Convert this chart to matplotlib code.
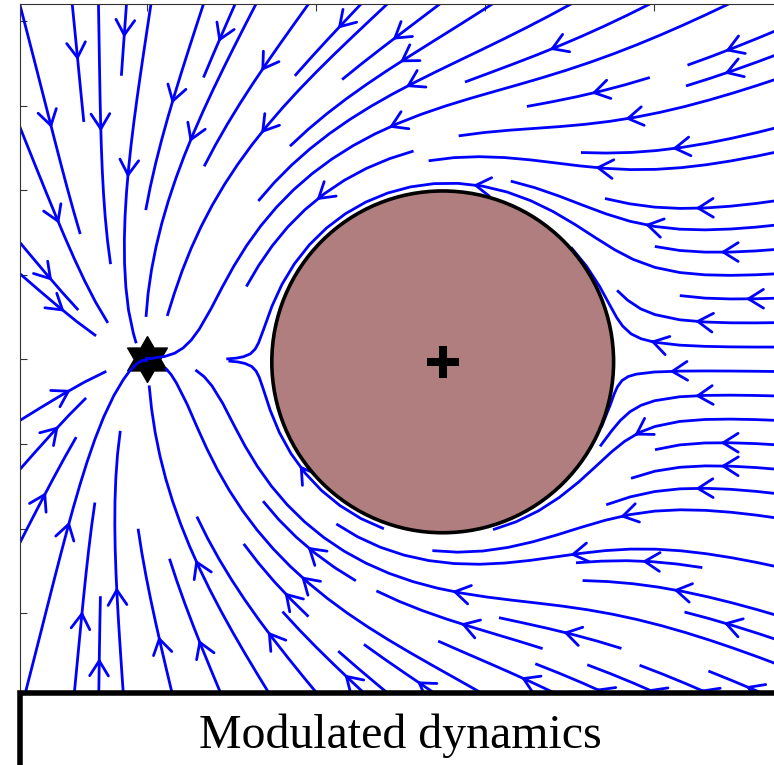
import numpy as np
import matplotlib.pyplot as plt
from matplotlib.patches import Circle, Rectangle

# scene setup
attractor = [0.0, 0.0]
obstacle_center = [3.5, -0.03]
obstacle_radius = 2.02
x_range = [-1.5, 7.5]
y_range = [-4.2, 4.2]
x_ticks = [0, 2, 4, 6]
y_ticks = [-4, -3, -2, -1, 0, 1, 2, 3, 4]
title = "Modulated dynamics"

W, H, DPI = 774, 765, 100
PX_PER_UNIT = 84.6


def modulated_velocity(X, Y):
    # linear system towards the attractor
    fx = -(X - attractor[0])
    fy = -(Y - attractor[1])
    dx = X - obstacle_center[0]
    dy = Y - obstacle_center[1]
    r = np.hypot(dx, dy)
    gamma = (r / obstacle_radius) ** 2
    nx, ny = dx / r, dy / r
    ex, ey = -ny, nx
    lam_n = 1 - 1 / gamma
    lam_e = 1 + 1 / gamma
    fn = fx * nx + fy * ny
    fe = fx * ex + fy * ey
    u = lam_n * fn * nx + lam_e * fe * ex
    v = lam_n * fn * ny + lam_e * fe * ey
    inside = r < obstacle_radius
    u = np.ma.masked_where(inside, u)
    v = np.ma.masked_where(inside, v)
    return u, v


xs = np.linspace(x_range[0], x_range[1], 360)
ys = np.linspace(y_range[0], y_range[1], 340)
X, Y = np.meshgrid(xs, ys)
U, V = modulated_velocity(X, Y)

fig = plt.figure(figsize=(W / DPI, H / DPI), dpi=DPI)
left_px, top_px = 19.7, 4.0
w_px = (x_range[1] - x_range[0]) * PX_PER_UNIT
h_px = (y_range[1] - y_range[0]) * PX_PER_UNIT
ax = fig.add_axes([left_px / W, (H - top_px - h_px) / H, w_px / W, h_px / H])

ax.streamplot(X, Y, U, V, density=1.0, color="#0000ff", linewidth=2.0,
              arrowstyle="->,head_length=0.4,head_width=0.25", arrowsize=2.7,
              zorder=2)

# obstacle with its centre
ax.add_patch(Circle(obstacle_center, obstacle_radius, facecolor="#b07e7e",
                    edgecolor="k", linewidth=2.6, zorder=3))
ax.plot(*obstacle_center, marker="+", color="k", markersize=23,
        markeredgewidth=5.8, zorder=4)

# hexagram for the attractor
ang_out = np.deg2rad(90 + 60 * np.arange(6))
ang_in = ang_out + np.deg2rad(30)
r_in = 1 / np.sqrt(3)
hexagram = []
for a, b in zip(ang_out, ang_in):
    hexagram.append((np.cos(a), np.sin(a)))
    hexagram.append((r_in * np.cos(b), r_in * np.sin(b)))
hexagram.append(hexagram[0])
ax.plot(*attractor, marker=hexagram, color="k", markersize=33, zorder=1)

ax.set_xlim(x_range)
ax.set_ylim(y_range)
ax.set_xticks(x_ticks)
ax.set_yticks(y_ticks)
ax.tick_params(direction="in", length=5, width=0.8, color="#333333",
               top=True, right=True, labelleft=False, labelbottom=False)
for s in ax.spines.values():
    s.set_color("#333333")
    s.set_linewidth(0.8)

# caption box along the bottom
box_top = 693
fig.add_artist(Rectangle((19.5 / W, -0.1), 1.2, (H - box_top) / H + 0.1,
                         transform=fig.transFigure, facecolor="white",
                         edgecolor="k", linewidth=4, zorder=10, clip_on=False))
fig.text(400 / W, (H - 748) / H, title, ha="center", va="baseline",
         family="Liberation Serif", fontsize=34.5, zorder=11)

fig.savefig("out.png", dpi=DPI)
